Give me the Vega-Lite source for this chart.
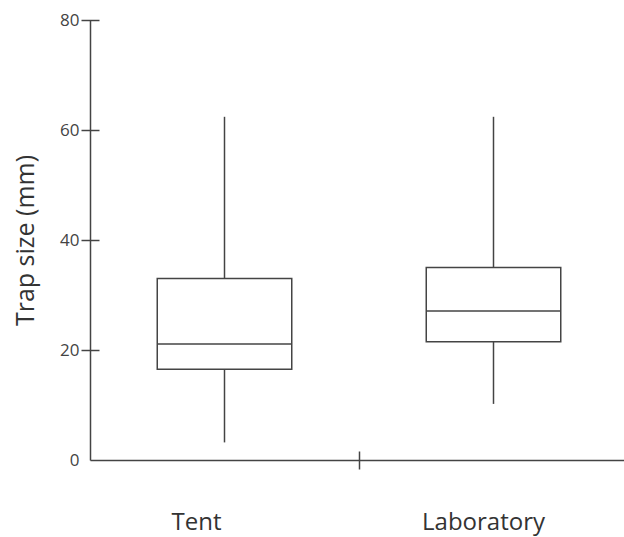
{
  "$schema": "https://vega.github.io/schema/vega-lite/v6.json",
  "autosize": "none",
  "width": 534,
  "height": 440,
  "padding": {"left": 90, "top": 20, "right": 0, "bottom": 77},
  "background": "white",
  "config": {"view": {"stroke": null}, "font": "Open Sans"},
  "data": {"values": [
    {"group": "Tent", "min": 3.2, "q1": 16.5, "median": 21.1, "q3": 33.0, "max": 62.4},
    {"group": "Laboratory", "min": 10.2, "q1": 21.5, "median": 27.1, "q3": 35.0, "max": 62.4}
  ]},
  "resolve": {"axis": {"x": "independent", "y": "independent"}},
  "layer": [
    {
      "mark": {"type": "rule", "color": "#444", "strokeWidth": 1.5},
      "encoding": {
        "x": {"field": "group", "type": "nominal", "sort": null,
          "scale": {"domain": ["Tent", "Laboratory"], "range": [0, 538], "paddingInner": 0, "paddingOuter": 0},
          "axis": {"orient": "bottom", "domain": false, "ticks": false, "tickSize": 0, "labelPadding": 50, "labelFontSize": 24, "labelColor": "#333", "labelAngle": 0,
            "labelOffset": {"condition": {"test": "datum.value === 'Tent'", "value": -28}, "value": -10}, "title": null}},
        "y": {"field": "min", "type": "quantitative",
          "scale": {"domain": [0, 80], "nice": false, "zero": true},
          "axis": {"orient": "left", "values": [0, 20, 40, 60, 80], "offset": -9, "tickSize": 18, "domain": false, "grid": false, "labelPadding": 2, "labelFontSize": 17, "labelColor": "#444", "tickColor": "#444", "tickWidth": 1.5,
            "tickOpacity": {"condition": {"test": "datum.value === 0", "value": 0}, "value": 1}, "title": null}},
        "y2": {"field": "q1"}
      }
    },
    {
      "mark": {"type": "rule", "color": "#444", "strokeWidth": 1.5},
      "encoding": {
        "x": {"field": "group", "type": "nominal", "sort": null,
          "scale": {"domain": ["Tent", "Laboratory"], "range": [0, 538], "paddingInner": 0, "paddingOuter": 0},
          "axis": null},
        "y": {"field": "q3", "type": "quantitative",
          "scale": {"domain": [0, 80], "nice": false, "zero": true}, "axis": null},
        "y2": {"field": "max"}
      }
    },
    {
      "mark": {"type": "rect", "fill": "white", "stroke": "#444", "strokeWidth": 1.5, "width": {"band": 0.5}},
      "encoding": {
        "x": {"field": "group", "type": "nominal", "sort": null,
          "scale": {"domain": ["Tent", "Laboratory"], "range": [0, 538], "paddingInner": 0, "paddingOuter": 0},
          "axis": {"orient": "bottom", "domain": true, "domainColor": "#444", "domainWidth": 1.5, "ticks": false, "labels": false, "title": null}},
        "y": {"field": "q1", "type": "quantitative",
          "scale": {"domain": [0, 80], "nice": false, "zero": true},
          "axis": {"orient": "left", "domain": true, "domainColor": "#444", "domainWidth": 1.5, "ticks": false, "labels": false, "grid": false,
            "title": "Trap size (mm)", "titleFontSize": 25, "titleFontWeight": "normal", "titleColor": "#333",
            "titleX": -65, "titleY": 220, "titleAngle": -90, "titleAlign": "center", "titleBaseline": "middle"}},
        "y2": {"field": "q3"}
      }
    },
    {
      "mark": {"type": "tick", "color": "#444", "opacity": 1, "thickness": 1.5, "size": 134.5},
      "encoding": {
        "x": {"field": "group", "type": "nominal", "sort": null,
          "scale": {"domain": ["Tent", "Laboratory"], "range": [0, 538], "paddingInner": 0, "paddingOuter": 0},
          "axis": {"orient": "bottom", "values": ["Laboratory"], "bandPosition": 0, "offset": -9, "tickSize": 18, "tickColor": "#444", "tickWidth": 1.5, "domain": false, "labels": false, "grid": false, "title": null}},
        "y": {"field": "median", "type": "quantitative",
          "scale": {"domain": [0, 80], "nice": false, "zero": true}, "axis": null}
      }
    }
  ]
}
